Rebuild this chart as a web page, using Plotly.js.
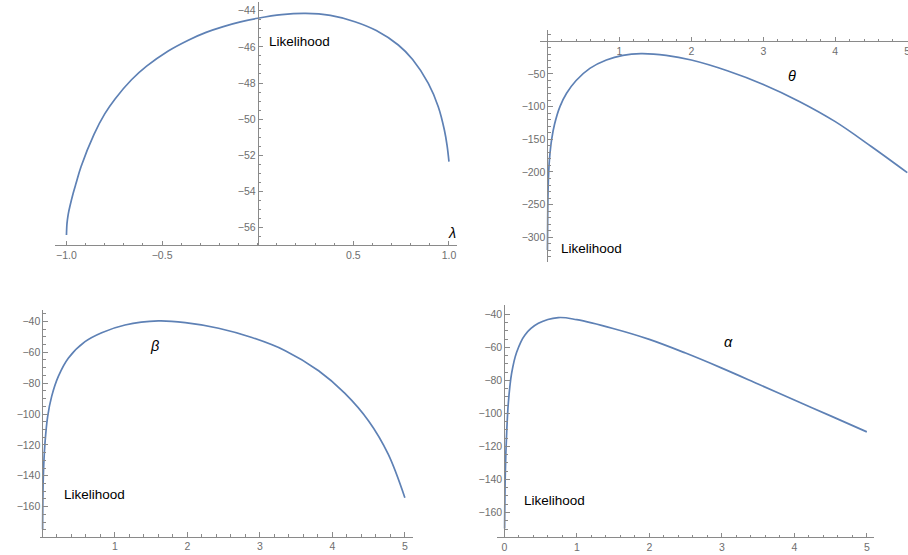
<!DOCTYPE html>
<html>
<head>
<meta charset="utf-8">
<script src="https://cdn.plot.ly/plotly-3.0.1.min.js"></script>
<style>html,body{margin:0;padding:0;background:#fff;}#chart{width:908px;height:555px;}</style>
</head>
<body>
<div id="chart"></div>
<script>
// ---- data ----
const lambdaX = [-1.0, -0.998, -0.995, -0.99, -0.982, -0.965, -0.95, -0.924, -0.856, -0.8, -0.746, -0.66, -0.581, -0.47, -0.363, -0.27, -0.18, -0.09, 0.0, 0.125, 0.25, 0.38, 0.508, 0.62, 0.735, 0.81, 0.892, 0.944, 0.976, 0.99, 1.0];
const lambdaY = [-56.41, -55.87, -55.56, -55.21, -54.82, -54.1, -53.55, -52.63, -50.84, -49.71, -48.88, -47.82, -47.07, -46.24, -45.63, -45.2, -44.88, -44.62, -44.42, -44.22, -44.15, -44.26, -44.61, -45.1, -45.9, -46.7, -48.02, -49.31, -50.6, -51.45, -52.35];

const thetaX = [0.0015, 0.006, 0.015, 0.03, 0.06, 0.1, 0.175, 0.267, 0.4, 0.59, 0.82, 1.05, 1.3, 1.65, 2.0, 2.5, 3.0, 3.5, 4.0, 4.5, 5.0];
const thetaY = [-319.5, -255, -210, -180, -150, -127, -100, -79.6, -60, -41.4, -28.6, -21.5, -19, -21.5, -28.6, -45, -66, -92, -123, -161, -201];

const betaX = [0.003, 0.013, 0.036, 0.073, 0.128, 0.22, 0.357, 0.588, 0.818, 1.14, 1.6, 1.97, 2.43, 2.89, 3.35, 3.81, 4.17, 4.5, 4.77, 5.0];
const betaY = [-174.6, -140.3, -118.7, -101.5, -88.6, -75.7, -63.9, -53.2, -47.4, -42.4, -39.8, -40.9, -44.5, -50.5, -59, -72, -86.5, -104.5, -126, -154.2];

const alphaX = [0.004, 0.014, 0.033, 0.055, 0.1, 0.17, 0.285, 0.47, 0.745, 1.0, 1.5, 2.0, 2.5, 3.0, 3.5, 4.0, 4.5, 5.0];
const alphaY = [-169.7, -135.4, -111.2, -94, -76, -63, -52.5, -45.5, -42, -43.3, -48.6, -55.2, -63.5, -72.6, -82.2, -91.9, -101.5, -111.2];

// tick labels
const lambdaXTicks = [-1.0, -0.5, 0.5, 1.0];
const lambdaXText = ["\u22121.0", "\u22120.5", "0.5", "1.0"];
const lambdaYTicks = [-44, -46, -48, -50, -52, -54, -56];
const thetaXTicks = [1, 2, 3, 4, 5];
const thetaYTicks = [-50, -100, -150, -200, -250, -300];
const betaXTicks = [1, 2, 3, 4, 5];
const betaYTicks = [-40, -60, -80, -100, -120, -140, -160];
const alphaXTicks = [0, 1, 2, 3, 4, 5];
const alphaYTicks = [-40, -60, -80, -100, -120, -140, -160];

const W = 908, H = 555;
const px = v => v / W;
const py = v => 1 - v / H;
const minusText = arr => arr.map(v => (v < 0 ? "\u2212" + Math.abs(v) : String(v)));

const lineColor = "#5E81B5";
const axisColor = "#8a8a8a";
const tickFont = {family: "Liberation Sans, Arial, sans-serif", size: 10.5, color: "#6e6e6e"};

function xAxis(domain, range, pos, tv, tt, minor) {
  return {
    domain: domain, range: range, anchor: "free", position: pos,
    showgrid: false, zeroline: false, showline: true, linecolor: axisColor, linewidth: 1,
    ticks: "inside", ticklen: 4.5, tickcolor: axisColor, tickwidth: 1,
    tickvals: tv, ticktext: tt, tickfont: tickFont, ticklabeloverflow: "allow",
    minor: {dtick: minor, ticks: "inside", ticklen: 2.5, tickcolor: axisColor, showgrid: false},
    fixedrange: true
  };
}
function yAxis(domain, range, pos, tv, minor) {
  return {
    domain: domain, range: range, anchor: "free", position: pos,
    showgrid: false, zeroline: false, showline: true, linecolor: axisColor, linewidth: 1,
    ticks: "inside", ticklen: 4.5, tickcolor: axisColor, tickwidth: 1,
    tickvals: tv, ticktext: minusText(tv), tickfont: tickFont, ticklabeloverflow: "allow",
    minor: {dtick: minor, ticks: "inside", ticklen: 2.5, tickcolor: axisColor, showgrid: false},
    fixedrange: true
  };
}

const traces = [
  {x: lambdaX, y: lambdaY, xaxis: "x", yaxis: "y"},
  {x: thetaX, y: thetaY, xaxis: "x2", yaxis: "y2"},
  {x: betaX, y: betaY, xaxis: "x3", yaxis: "y3"},
  {x: alphaX, y: alphaY, xaxis: "x4", yaxis: "y4"}
].map(t => Object.assign(t, {type: "scatter", mode: "lines", line: {color: lineColor, width: 1.7, shape: "spline", smoothing: 1}, hoverinfo: "skip", showlegend: false}));

const labelFont = {family: "Liberation Sans, Arial, sans-serif", size: 13.5, color: "#000"};
const greekFont = {family: "Liberation Sans, Arial, sans-serif", size: 14.5, color: "#000"};

function ann(text, x, y, xanchor, font) {
  return {text: text, x: px(x), y: py(y), xref: "paper", yref: "paper", xanchor: xanchor, yanchor: "middle", showarrow: false, font: font};
}

const layout = {
  width: W, height: H,
  margin: {l: 0, r: 0, t: 0, b: 0},
  paper_bgcolor: "#fff", plot_bgcolor: "rgba(0,0,0,0)",
  showlegend: false,
  xaxis: xAxis([px(55), px(457)], [-1.06, 1.042], py(245), lambdaXTicks, lambdaXText, 0.1),
  yaxis: yAxis([py(245), py(2)], [-56.96, -43.52], px(257.75), lambdaYTicks, 0.5),
  xaxis2: xAxis([px(540), 1], [-0.102, 5.01], py(41.3), thetaXTicks, thetaXTicks.map(String), 0.2),
  yaxis2: yAxis([py(261.7), py(30)], [-337.4, 17.3], px(547.4), thetaYTicks, 10),
  xaxis3: xAxis([px(40), px(412.7)], [-0.033, 5.108], py(536.7), betaXTicks, betaXTicks.map(String), 0.2),
  yaxis3: yAxis([py(536.7), py(310)], [-179.4, -32.7], px(42.4), betaYTicks, 5),
  xaxis4: xAxis([px(496.7), px(874.3)], [-0.105, 5.103], py(537.3), alphaXTicks, alphaXTicks.map(String), 0.2),
  yaxis4: yAxis([py(537.3), py(305)], [-175, -34.4], px(504.3), alphaYTicks, 5),
  annotations: [
    ann("Likelihood", 267, 41, "left", labelFont),
    ann("<i>λ</i>", 452, 233, "center", greekFont),
    ann("Likelihood", 559, 248, "left", labelFont),
    ann("<i>θ</i>", 792, 76, "center", greekFont),
    ann("Likelihood", 62, 494, "left", labelFont),
    ann("<i>β</i>", 154, 346, "center", greekFont),
    ann("Likelihood", 521.5, 500, "left", labelFont),
    ann("<i>α</i>", 728, 342, "center", greekFont)
  ]
};

Plotly.newPlot("chart", traces, layout, {staticPlot: true, displayModeBar: false});
</script>
</body>
</html>
